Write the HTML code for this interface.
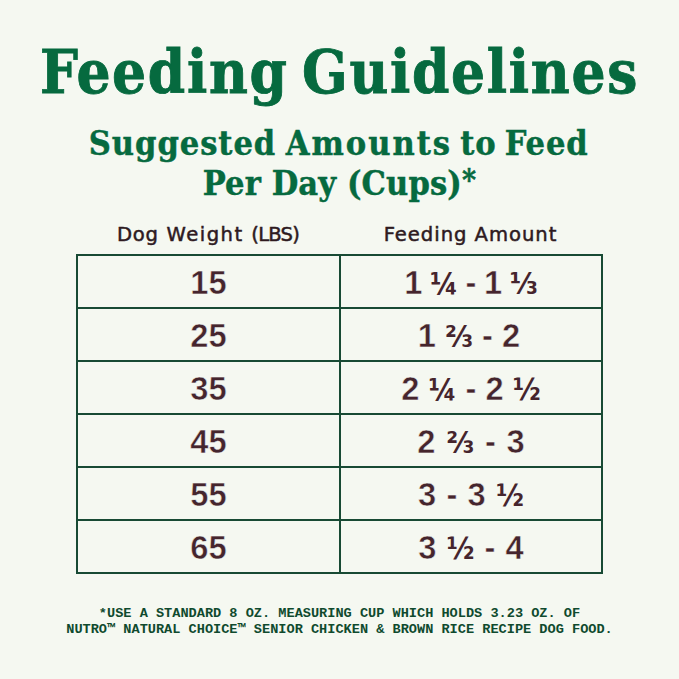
<!DOCTYPE html>
<html lang="en">
<head>
<meta charset="utf-8">
<title>Feeding Guidelines</title>
<style>
  html, body { margin: 0; padding: 0; }
  body {
    width: 679px; height: 679px; overflow: hidden; position: relative;
    background: #f5f8f1;
  }
  .t { position: absolute; white-space: nowrap; line-height: 1; }
  .title {
    left: 0; width: 679px; text-align: center; top: 43px;
    font-family: "DejaVu Serif Condensed", "DejaVu Serif", "Liberation Serif", serif;
    font-stretch: condensed;
    font-weight: 700; font-size: 59.5px; color: #066a3f; letter-spacing: 1.68px; word-spacing: -7px; -webkit-text-stroke: 0.8px #066a3f;
  }
  .sub {
    left: 0; width: 679px; text-align: center;
    font-family: "DejaVu Serif Condensed", "DejaVu Serif", "Liberation Serif", serif;
    font-stretch: condensed;
    font-weight: 700; font-size: 34px; color: #066a3f; letter-spacing: 0.95px; -webkit-text-stroke: 0.45px #066a3f;
  }
  .hdr {
    font-family: "DejaVu Sans", "Liberation Sans", sans-serif;
    font-size: 19.6px; color: #2e1a1f; text-align: center;
    -webkit-text-stroke: 0.5px #2e1a1f;
  }
  table {
    position: absolute; left: 76px; top: 254px;
    border-collapse: collapse;
  }
  td {
    border: 2px solid #184a34; padding: 3px 0 0 0; height: 48px;
    text-align: center; vertical-align: middle;
    font-family: "Liberation Sans", "DejaVu Sans", sans-serif;
    font-weight: 700; font-size: 32.7px; color: #45252d; -webkit-text-stroke: 0.5px #f5f8f1;
  }
  td.a { width: 261px; }
  td.b { width: 260px; }
  .q, .f { font-family: "DejaVu Sans Condensed", "DejaVu Sans", sans-serif; font-stretch: condensed; font-size: 30px; -webkit-text-stroke: 0; }
  .foot {
    left: 0; width: 679px; text-align: center;
    font-family: "Liberation Mono", "DejaVu Sans Mono", monospace;
    font-weight: 700; font-size: 13.6px; color: #0f4a2e;
  }
</style>
</head>
<body>
  <div class="t title">Feeding Guidelines</div>
  <div class="t sub" style="top:126px;word-spacing:-3.5px"><span style="position:relative;left:-1.5px">Suggested</span> <span style="letter-spacing:2px">Amounts</span> to Feed</div>
  <div class="t sub" style="top:165.5px;letter-spacing:0.13px">Per Day (Cups)<span style="font-size:30px;position:relative;top:-4.5px">*</span></div>

  <div class="t hdr" style="left:76.5px;width:263px;top:225px;letter-spacing:0.8px;word-spacing:0.6px">Dog <span style="letter-spacing:1.5px">Weight</span> <span style="letter-spacing:-0.8px">(LBS)</span></div>
  <div class="t hdr" style="left:339px;width:263px;top:225px;letter-spacing:0.95px">Feeding Amount</div>

  <table>
    <tr><td class="a">15</td><td class="b" style="word-spacing:-1.5px">1 <span class="q">¼</span> - 1 <span class="f">⅓</span></td></tr>
    <tr><td class="a">25</td><td class="b" style="text-indent:-4px">1 <span class="f">⅔</span> - 2</td></tr>
    <tr><td class="a">35</td><td class="b">2 <span class="q">¼</span> - 2 <span class="f">½</span></td></tr>
    <tr><td class="a">45</td><td class="b" style="word-spacing:1.7px">2 <span class="f">⅔</span> - 3</td></tr>
    <tr><td class="a">55</td><td class="b" style="word-spacing:1.2px">3 - 3 <span class="f">½</span></td></tr>
    <tr><td class="a">65</td><td class="b" style="word-spacing:1px">3 <span class="f">½</span> - 4</td></tr>
  </table>

  <div class="t foot" style="top:607px">*USE A STANDARD 8 OZ. MEASURING CUP WHICH HOLDS 3.23 OZ. OF</div>
  <div class="t foot" style="top:623px">NUTRO™ NATURAL CHOICE™ SENIOR CHICKEN &amp; BROWN RICE RECIPE DOG FOOD.</div>
</body>
</html>
